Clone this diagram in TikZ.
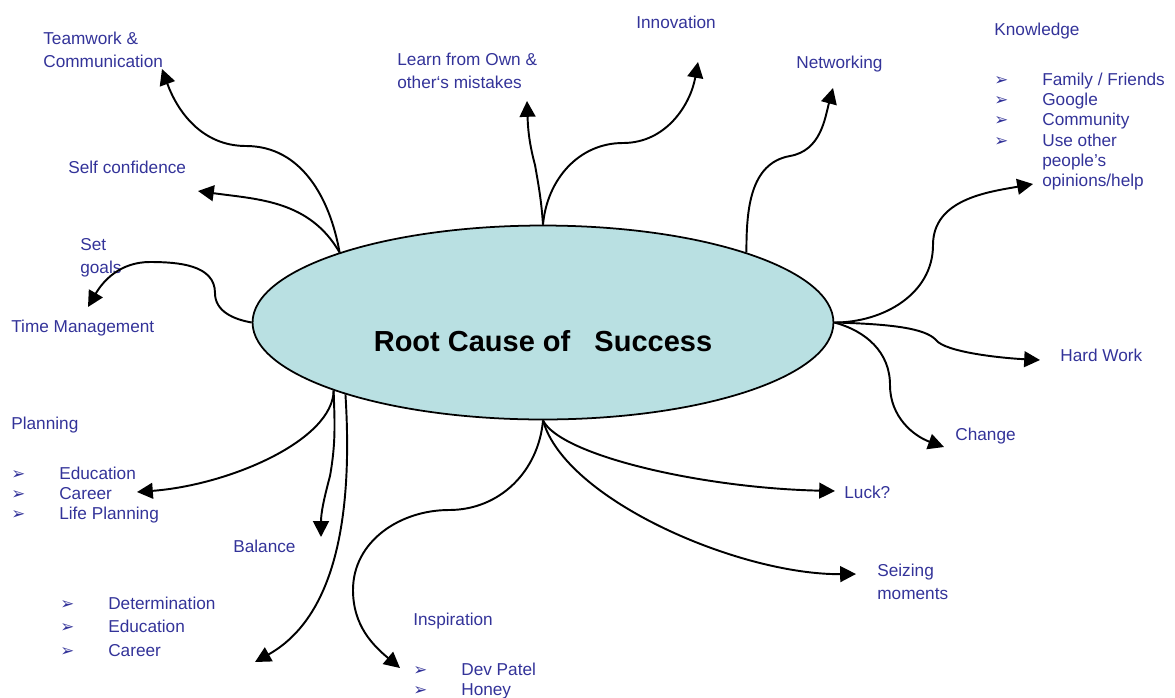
\documentclass[tikz,border=0pt]{standalone}
\usepackage{fontspec}
\setmainfont{Liberation Sans}
\newfontfamily\bulletfont{DejaVu Sans}
\usetikzlibrary{arrows.meta, shapes.geometric}
\definecolor{lblblue}{RGB}{51,51,153}
\definecolor{rootfill}{RGB}{185,224,226}
\newcommand{\bul}{\makebox[27.3pt][l]{\bulletfont\fontsize{9.5}{9.5}\selectfont ➢}}
\newcommand{\bulgap}{\hspace*{27.3pt}}

\begin{document}
\begin{tikzpicture}[x=0.02cm, y=0.02cm,
    lbl/.style={text=lblblue, font=\fontsize{9.8}{13}\selectfont, anchor=west, align=left, inner sep=0pt},
    lst/.style={lbl, font=\fontsize{9.8}{11.5}\selectfont},
    branch/.style={line width=1.1pt, -{Triangle[length=9pt, width=9pt]}}]
  \useasboundingbox (0,0) rectangle (1175,-697);

  \node[ellipse, draw, line width=1pt, fill=rootfill, minimum width=11.62cm, minimum height=3.88cm] (root) at (543,-322.5) {};
  \node[font=\fontsize{16.5}{20}\selectfont\bfseries] (roottitle) at (543,-341) {Root Cause of\ \ \ Success};

  \node[lbl] (team) at (43,-50) {Teamwork \&\\Communication};
  \node[lbl] (selfconf) at (68,-167) {Self confidence};
  \node[lbl] (goals) at (80,-258) {Set\\goals};
  \node[lbl] (timemgmt) at (11,-328) {Time Management};
  \node[lbl] (planning) at (11,-425) {Planning};
  \node[lst] (planlist) at (11,-495) {\bul Education\\\bul Career\\\bul Life Planning};
  \node[lbl] (balance) at (233,-546) {Balance};
  \node[lst, font=\fontsize{9.8}{13.4}\selectfont] (detlist) at (60,-626.5) {\bul Determination\\\bul Education\\\bul Career};
  \node[lbl] (inspiration) at (413,-621) {Inspiration};
  \node[lst] (insplist) at (413,-681) {\bul Dev Patel\\\bul Honey};
  \node[lbl] (learn) at (397,-71) {Learn from Own \&\\other‘s mistakes};
  \node[lbl] (innovation) at (636,-22) {Innovation};
  \node[lbl] (networking) at (796,-64) {Networking};
  \node[lbl] (knowledge) at (994,-31) {Knowledge};
  \node[lst] (knowlist) at (994,-131.5) {\bul Family / Friends\\\bul Google\\\bul Community\\\bul Use other\\\bulgap people’s\\\bulgap opinions/help};
  \node[lbl] (hardwork) at (1060,-355) {Hard Work};
  \node[lbl] (change) at (955,-436) {Change};
  \node[lbl] (luck) at (844,-492) {Luck?};
  \node[lbl] (seizing) at (877,-582) {Seizing\\moments};

  \coordinate (tTeam) at (162,-69);
  \coordinate (tSelf) at (198,-191);
  \coordinate (tGoals) at (88,-307);
  \coordinate (tLearn) at (527,-101);
  \coordinate (tInnov) at (698,-62);
  \coordinate (tNet) at (833,-88);
  \coordinate (tKnow) at (1033,-184);
  \coordinate (tHard) at (1040,-360);
  \coordinate (tChange) at (944,-447);
  \coordinate (tLuck) at (835,-491);
  \coordinate (tSeize) at (856,-574);
  \coordinate (tInsp) at (400,-668);
  \coordinate (tPlan) at (137,-492);
  \coordinate (tBal) at (321,-537);
  \coordinate (tDet) at (255,-662);

  \draw[branch] (root.161) to[out=100,in=0] (246,-146) to[out=180,in=-70] (tTeam);
  \draw[branch] (root.161) to[out=120,in=-8] (tSelf);
  \draw[branch] (root.180) to[out=170,in=-90] (215,-293) to[out=90,in=0] (150,-262) to[out=180,in=60] (tGoals);
  \draw[branch] (root.90) to[out=94,in=-80] (535,-165) to[out=105,in=-88] (tLearn);
  \draw[branch] (root.90) to[out=85,in=180] (623,-143) to[out=0,in=-100] (tInnov);
  \draw[branch] (root.19) to[out=90,in=190] (790,-156) to[out=10,in=-105] (tNet);
  \draw[branch] (root.0) to[out=0,in=-90] (933,-245) to[out=90,in=190] (tKnow);
  \draw[branch] (root.0) .. controls (890,-324) and (925,-328) .. (936,-340) .. controls (945,-352) and (1000,-358) .. (tHard);
  \draw[branch] (root.0) to[out=-15,in=90] (890,-385) to[out=-90,in=160] (tChange);
  \draw[branch] (root.270) .. controls (560,-455) and (700,-488) .. (tLuck);
  \draw[branch] (root.270) .. controls (565,-500) and (740,-575) .. (tSeize);
  \draw[branch] (root.270) to[out=-95,in=0] (449,-510) to[out=180,in=90] (353,-590) to[out=-90,in=140] (tInsp);
  \draw[branch] (root.198) .. controls (333,-440) and (230,-485) .. (tPlan);
  \draw[branch] (root.198) to[out=-88,in=80] (330,-476) to[out=-105,in=90] (tBal);
  \draw[branch] (root.200) .. controls (354,-530) and (330,-620) .. (tDet);
\end{tikzpicture}
\end{document}
